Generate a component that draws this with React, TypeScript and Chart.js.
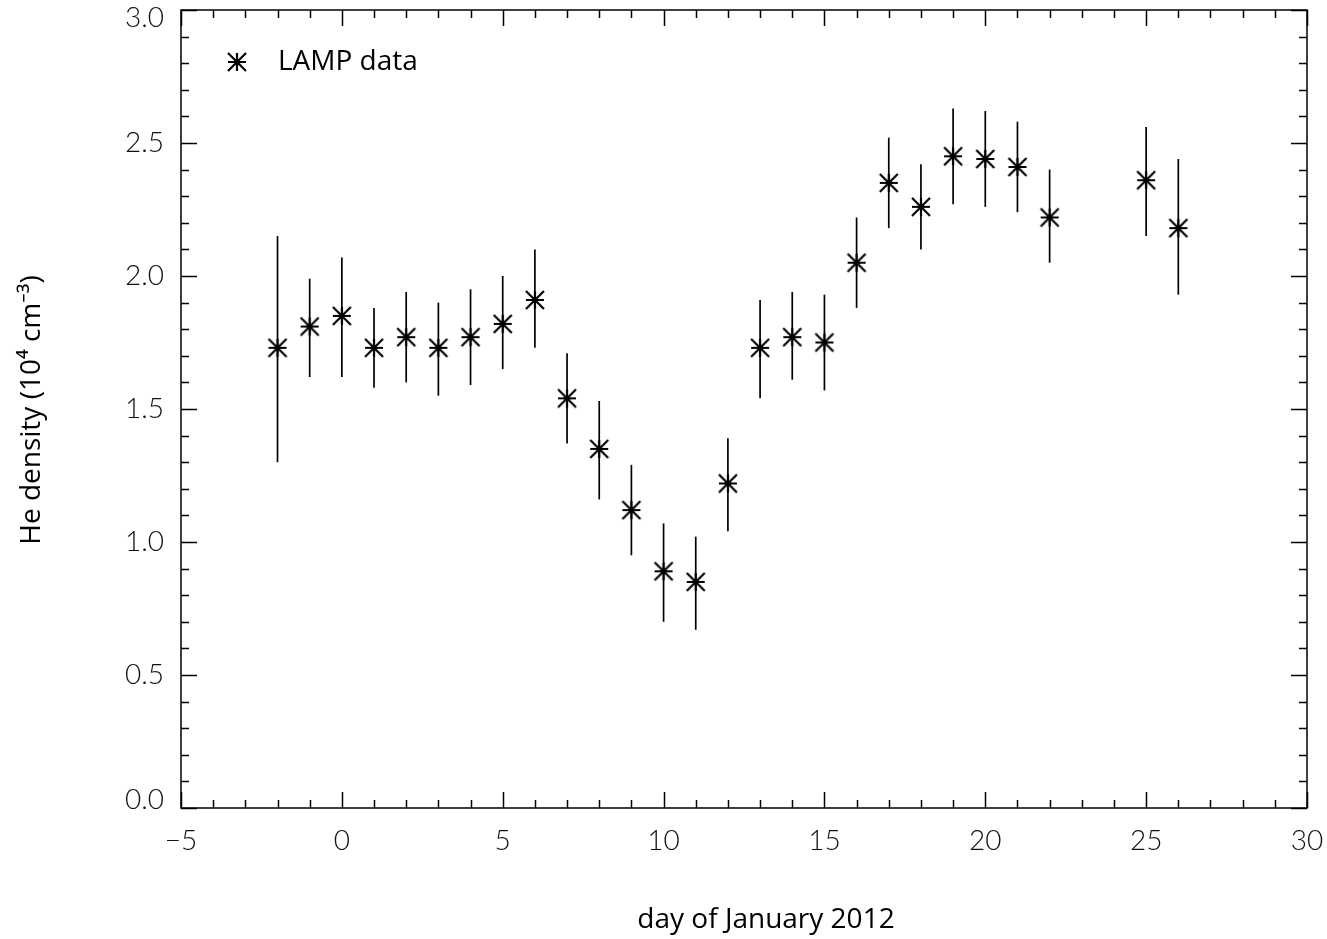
import React, { useEffect, useRef } from "react";
import { Chart, registerables } from "chart.js";

Chart.register(...registerables);

// Day of January 2012
const days = [-2, -1, 0, 1, 2, 3, 4, 5, 6, 7, 8, 9, 10, 11, 12, 13, 14, 15, 16, 17, 18, 19, 20, 21, 22, 25, 26];
// He density (10^4 cm^-3)
const density = [1.73, 1.81, 1.85, 1.73, 1.77, 1.73, 1.77, 1.82, 1.91, 1.54, 1.35, 1.12, 0.89, 0.85, 1.22, 1.73, 1.77, 1.75, 2.05, 2.35, 2.26, 2.45, 2.44, 2.41, 2.22, 2.36, 2.18];
const upper = [2.15, 1.99, 2.07, 1.88, 1.94, 1.9, 1.95, 2.0, 2.1, 1.71, 1.53, 1.29, 1.07, 1.02, 1.39, 1.91, 1.94, 1.93, 2.22, 2.52, 2.42, 2.63, 2.62, 2.58, 2.4, 2.56, 2.44];
const lower = [1.3, 1.62, 1.62, 1.58, 1.6, 1.55, 1.59, 1.65, 1.73, 1.37, 1.16, 0.95, 0.7, 0.67, 1.04, 1.54, 1.61, 1.57, 1.88, 2.18, 2.1, 2.27, 2.26, 2.24, 2.05, 2.15, 1.93];

const xRange = [-5, 30];
const yRange = [0, 3];
const xMajor = 5;
const xMinor = 1;
const yMajor = 0.5;
const yMinor = 0.1;

const seriesLabel = "LAMP data";
const xTitle = "day of January 2012";
const yTitle = "He density (10\u2074 cm\u207B\u00B3)";

const tickFont = "Lato, 'Liberation Sans', sans-serif";
const textFont = "'Open Sans', 'Noto Sans', sans-serif";

// Asterisk symbol: horizontal, vertical and two diagonals reaching the box corners
function drawAsterisk(ctx: CanvasRenderingContext2D, x: number, y: number, r: number) {
  ctx.beginPath();
  ctx.moveTo(x - r, y);
  ctx.lineTo(x + r, y);
  ctx.moveTo(x, y - r);
  ctx.lineTo(x, y + r);
  ctx.moveTo(x - r, y - r);
  ctx.lineTo(x + r, y + r);
  ctx.moveTo(x - r, y + r);
  ctx.lineTo(x + r, y - r);
  ctx.stroke();
}

function makeAsteriskSprite(r: number, lw: number): HTMLCanvasElement {
  const size = 2 * r + 4;
  const c = document.createElement("canvas");
  c.width = size;
  c.height = size;
  const g = c.getContext("2d")!;
  g.strokeStyle = "#000";
  g.lineWidth = lw;
  drawAsterisk(g, size / 2, size / 2, r);
  return c;
}

const errorBars = {
  id: "errorBars",
  beforeDatasetsDraw(chart: any) {
    const { ctx } = chart;
    const xs = chart.scales.x;
    const ys = chart.scales.y;
    ctx.save();
    ctx.strokeStyle = "#000";
    ctx.lineWidth = 1.7;
    days.forEach((d, i) => {
      const px = xs.getPixelForValue(d);
      ctx.beginPath();
      ctx.moveTo(px, ys.getPixelForValue(lower[i]));
      ctx.lineTo(px, ys.getPixelForValue(upper[i]));
      ctx.stroke();
    });
    ctx.restore();
  },
};

const frameTicks = {
  id: "frameTicks",
  afterDatasetsDraw(chart: any) {
    const { ctx, chartArea: a } = chart;
    const xs = chart.scales.x;
    const ys = chart.scales.y;
    ctx.save();
    ctx.strokeStyle = "#000";
    ctx.lineWidth = 1.5;
    ctx.strokeRect(a.left, a.top, a.right - a.left, a.bottom - a.top);
    const major = 16;
    const minor = 8;
    ctx.beginPath();
    const nx = Math.round((xRange[1] - xRange[0]) / xMinor);
    for (let k = 0; k <= nx; k++) {
      const v = xRange[0] + k * xMinor;
      const isMajor = Math.abs(v / xMajor - Math.round(v / xMajor)) < 1e-6;
      const len = isMajor ? major : minor;
      const px = Math.round(xs.getPixelForValue(v)) + 0.5;
      ctx.moveTo(px, a.bottom);
      ctx.lineTo(px, a.bottom - len);
      ctx.moveTo(px, a.top);
      ctx.lineTo(px, a.top + len);
    }
    const ny = Math.round((yRange[1] - yRange[0]) / yMinor);
    for (let k = 0; k <= ny; k++) {
      const v = yRange[0] + k * yMinor;
      const isMajor = Math.abs(v / yMajor - Math.round(v / yMajor)) < 1e-6;
      const len = isMajor ? major : minor;
      const py = Math.round(ys.getPixelForValue(v)) + 0.5;
      ctx.moveTo(a.left, py);
      ctx.lineTo(a.left + len, py);
      ctx.moveTo(a.right, py);
      ctx.lineTo(a.right - len, py);
    }
    ctx.stroke();
    ctx.restore();
  },
  afterDraw(chart: any) {
    const { ctx } = chart;
    ctx.save();
    ctx.fillStyle = "#000";
    ctx.strokeStyle = "#000";
    ctx.lineWidth = 2.2;
    // legend entry
    const my = 62;
    drawAsterisk(ctx, 237, my, 9);
    ctx.font = `28px ${textFont}`;
    ctx.textBaseline = "middle";
    ctx.textAlign = "left";
    ctx.fillText(seriesLabel, 278, my);
    // axis titles
    ctx.textAlign = "center";
    ctx.fillText(xTitle, 766, 920);
    ctx.translate(32, 410);
    ctx.rotate(-Math.PI / 2);
    ctx.fillText(yTitle, 0, 0);
    ctx.restore();
  },
};

export default function App() {
  const ref = useRef<HTMLCanvasElement>(null);
  useEffect(() => {
    document.body.style.margin = "0";
    const canvas = ref.current!;
    const sprite = makeAsteriskSprite(9, 2.2);
    const chart = new Chart(canvas, {
      type: "scatter",
      data: {
        datasets: [
          {
            label: seriesLabel,
            data: days.map((d, i) => ({ x: d, y: density[i] })),
            pointStyle: sprite,
            pointRadius: 10,
            pointHoverRadius: 10,
            borderColor: "#000",
            backgroundColor: "#000",
          } as any,
        ],
      },
      options: {
        animation: false,
        responsive: false,
        maintainAspectRatio: false,
        events: [],
        layout: { autoPadding: false, padding: { left: 0, right: 20, top: 10, bottom: 0 } } as any,
        plugins: { legend: { display: false }, tooltip: { enabled: false } },
        scales: {
          x: {
            type: "linear",
            min: xRange[0],
            max: xRange[1],
            grid: { display: false },
            border: { display: false },
            ticks: {
              stepSize: xMajor,
              padding: 8,
              color: "#111",
              font: { family: tickFont, size: 28, weight: "300" as any },
              callback: (v: any) => (Number(v) < 0 ? "\u2212" + Math.abs(Number(v)) : String(v)),
            },
            afterFit: (s: any) => {
              s.height = 131;
              s.paddingLeft = 0;
              s.paddingRight = 0;
            },
          },
          y: {
            type: "linear",
            min: yRange[0],
            max: yRange[1],
            grid: { display: false },
            border: { display: false },
            ticks: {
              stepSize: yMajor,
              padding: 9,
              color: "#111",
              // end labels are nudged inward so they stay next to the frame
              font: (c: any) => ({
                family: tickFont,
                size: 28,
                weight: "300" as any,
                lineHeight: c.tick && (c.tick.value === yRange[0] || c.tick.value === yRange[1]) ? 16 / 28 : 1.2,
              }),
              callback: (v: any) => {
                const s = Number(v).toFixed(1);
                if (Number(v) === yRange[1]) return ["", s];
                if (Number(v) === yRange[0]) return [s, ""];
                return s;
              },
            },
            afterFit: (s: any) => {
              s.width = 181;
              s.paddingTop = 0;
              s.paddingBottom = 0;
            },
          },
        },
      },
      plugins: [errorBars, frameTicks],
    });
    return () => chart.destroy();
  }, []);
  return (
    <div style={{ width: 1327, height: 939 }}>
      <canvas ref={ref} width={1327} height={939} style={{ display: "block" }} />
    </div>
  );
}
